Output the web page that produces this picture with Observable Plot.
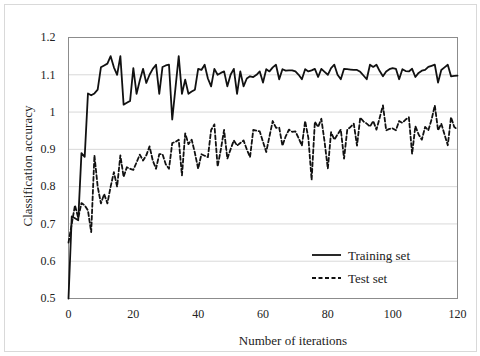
<!DOCTYPE html>
<html><head><meta charset="utf-8">
<script src="https://cdn.jsdelivr.net/npm/d3@7"></script>
<script src="https://cdn.jsdelivr.net/npm/@observablehq/plot@0.6"></script>
<style>
html,body{margin:0;padding:0;background:#fff;}
#wrap{position:relative;width:480px;height:356px;overflow:hidden;}
#border{position:absolute;left:4px;top:4px;width:473px;height:348px;border:1px solid #d9d9d9;box-sizing:border-box;}
#wrap svg{position:absolute;left:0;top:0;}
#wrap svg text{font-family:"Liberation Serif","Times New Roman","DejaVu Serif",serif !important;}
</style></head><body><div id="wrap"><div id="border"></div></div>
<script>
const trainingSet = [
  0.50, 0.72, 0.715, 0.71, 0.89, 0.88, 1.05, 1.045, 1.05, 1.06,
  1.12, 1.125, 1.13, 1.15, 1.12, 1.10, 1.15, 1.02, 1.025, 1.03,
  1.118, 1.049, 1.085, 1.116, 1.078, 1.10, 1.116, 1.127, 1.049, 1.121,
  1.125, 1.127, 0.98, 1.065, 1.15, 1.049, 1.087, 1.049, 1.055, 1.06,
  1.116, 1.113, 1.127, 1.09, 1.069, 1.116, 1.10, 1.105, 1.109, 1.069,
  1.10, 1.116, 1.049, 1.109, 1.069, 1.09, 1.096, 1.094, 1.10, 1.109,
  1.079, 1.115, 1.109, 1.12, 1.127, 1.088, 1.115, 1.111, 1.112, 1.112,
  1.109, 1.10, 1.088, 1.115, 1.109, 1.112, 1.116, 1.094, 1.116, 1.108,
  1.10, 1.118, 1.127, 1.10, 1.088, 1.116, 1.115, 1.114, 1.113, 1.113,
  1.108, 1.098, 1.088, 1.127, 1.121, 1.127, 1.11, 1.096, 1.109, 1.115,
  1.118, 1.116, 1.088, 1.115, 1.11, 1.109, 1.116, 1.094, 1.105, 1.111,
  1.113, 1.121, 1.124, 1.127, 1.079, 1.113, 1.12, 1.127, 1.096, 1.097,
  1.098
];
const testSet = [
  0.65, 0.70, 0.75, 0.716, 0.756, 0.75, 0.736, 0.678, 0.884, 0.80,
  0.755, 0.78, 0.755, 0.80, 0.839, 0.80, 0.884, 0.826, 0.852, 0.848,
  0.845, 0.865, 0.886, 0.87, 0.884, 0.908, 0.87, 0.848, 0.887, 0.887,
  0.86, 0.848, 0.917, 0.92, 0.926, 0.83, 0.943, 0.914, 0.926, 0.89,
  0.848, 0.887, 0.883, 0.879, 0.952, 0.967, 0.854, 0.90, 0.952, 0.875,
  0.90, 0.924, 0.91, 0.917, 0.924, 0.90, 0.879, 0.952, 0.95, 0.948,
  0.92, 0.893, 0.935, 0.976, 0.958, 0.958, 0.91, 0.935, 0.953, 0.947,
  0.948, 0.93, 0.91, 0.976, 0.93, 0.818, 0.974, 0.96, 0.982, 0.92,
  0.848, 0.946, 0.926, 0.94, 0.953, 0.875, 0.953, 0.96, 0.969, 0.91,
  0.985, 0.975, 0.969, 0.961, 0.976, 0.953, 0.985, 1.018, 0.951, 0.955,
  0.956, 0.951, 0.976, 0.971, 0.98, 0.986, 0.888, 0.962, 0.94, 0.926,
  0.96, 0.951, 0.98, 1.018, 0.951, 0.969, 0.94, 0.911, 0.986, 0.96,
  0.953
];
const xTicks = [0, 20, 40, 60, 80, 100, 120];
const yTicks = [0.5, 0.6, 0.7, 0.8, 0.9, 1.0, 1.1, 1.2];
const yTickLabels = ["0.5", "0.6", "0.7", "0.8", "0.9", "1", "1.1", "1.2"];
const seriesNames = ["Training set", "Test set"];
const xTitle = "Number of iterations";
const yTitle = "Classification accuracy";

const iterations = d3.range(trainingSet.length);
const rows = iterations.map(i => ({iter: i, train: trainingSet[i], test: testSet[i]}));
const FONT = "Liberation Serif";
const DASH = "4,2.5";

const chart = Plot.plot({
  width: 480, height: 356,
  marginLeft: 68, marginRight: 23, marginTop: 37, marginBottom: 58,
  style: {fontFamily: FONT, fontSize: "12px", color: "#222", background: "transparent"},
  x: {domain: [0, 120], ticks: xTicks, tickSize: 0, tickPadding: 11, label: null},
  y: {domain: [0.5, 1.2], ticks: yTicks, tickSize: 0, tickPadding: 13, label: null,
      tickFormat: d => yTickLabels[yTicks.indexOf(d)]},
  marks: [
    Plot.gridY(yTicks, {stroke: "#d9d9d9", strokeOpacity: 1}),
    Plot.frame({stroke: "#8c8c8c"}),
    Plot.line(rows, {x: "iter", y: "test", stroke: "#111", strokeWidth: 1.8, strokeDasharray: DASH}),
    Plot.line(rows, {x: "iter", y: "train", stroke: "#111", strokeWidth: 1.8})
  ]
});
document.getElementById("wrap").appendChild(chart);

const svg = d3.select(chart);
// axis titles
svg.append("text").attr("x", 293).attr("y", 340).attr("text-anchor", "middle")
  .attr("dy", "0.35em").attr("font-size", 13).attr("fill", "#222").text(xTitle);
svg.append("text").attr("transform", "translate(27,166) rotate(-90)").attr("text-anchor", "middle")
  .attr("dy", "0.35em").attr("font-size", 13).attr("fill", "#222").text(yTitle);
// legend
const legend = svg.append("g").attr("text-anchor", "start");
seriesNames.forEach((name, k) => {
  const ly = 255 + k * 23;
  legend.append("line").attr("x1", 312).attr("x2", 341).attr("y1", ly).attr("y2", ly)
    .attr("stroke", "#111").attr("stroke-width", 1.8).attr("stroke-dasharray", k === 1 ? DASH : null);
  legend.append("text").attr("x", 348).attr("y", ly).attr("dy", "0.35em").attr("text-anchor", "start")
    .attr("font-size", 13).attr("fill", "#222").text(name);
});
</script>
</body></html>
